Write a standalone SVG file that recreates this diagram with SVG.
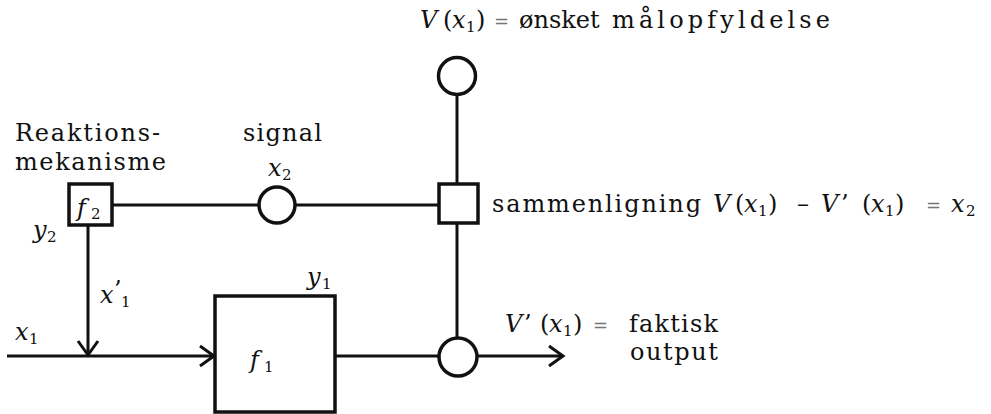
<svg xmlns="http://www.w3.org/2000/svg" width="991" height="414" viewBox="0 0 991 414">
<defs>
<style>
.t{font-family:'DejaVu Serif','Liberation Serif',serif;font-size:24px;fill:#111}
.i{font-style:italic}
.s{font-size:15px}
.eq{fill:#777;font-size:18px}
.ln{stroke:#111;stroke-width:3;fill:none}
.nd{stroke:#111;stroke-width:3.5;fill:#fff}
</style>
<marker id="ah" markerUnits="userSpaceOnUse" markerWidth="20" markerHeight="24" refX="16" refY="12" orient="auto">
<path d="M2,2 L16,12 L2,22" fill="none" stroke="#111" stroke-width="3"/>
</marker>
</defs>
<rect width="991" height="414" fill="#fff"/>
<g id="connectors">
<line class="ln" x1="112" y1="205" x2="259" y2="205"/>
<line class="ln" x1="295" y1="205" x2="439" y2="205"/>
<line class="ln" x1="457" y1="95" x2="457" y2="184"/>
<line class="ln" x1="457" y1="223" x2="457" y2="338"/>
<line class="ln" x1="88" y1="225" x2="88" y2="355" marker-end="url(#ah)"/>
<line class="ln" x1="7" y1="356" x2="214" y2="356" marker-end="url(#ah)"/>
<line class="ln" x1="335" y1="356" x2="439" y2="356"/>
<line class="ln" x1="477" y1="356" x2="563" y2="356" marker-end="url(#ah)"/>
</g>
<g id="f2">
<rect class="nd" x="69" y="184" width="43" height="41"/>
<text class="t i" x="77" y="216">f</text><text class="t s" x="91" y="219">2</text>
</g>
<g id="reaktion-label">
<text class="t" x="15" y="141" textLength="145" lengthAdjust="spacing">Reaktions-</text>
<text class="t" x="15" y="170" textLength="151" lengthAdjust="spacing">mekanisme</text>
<text class="t i" x="33" y="238">y</text><text class="t s" x="47" y="242">2</text>
</g>
<g id="signal">
<circle class="nd" cx="277" cy="205" r="18"/>
<text class="t" x="243" y="141" textLength="79" lengthAdjust="spacing">signal</text>
<text class="t i" x="268" y="176">x</text><text class="t s" x="282" y="180">2</text>
</g>
<g id="target">
<circle class="nd" cx="457" cy="76" r="18.5"/>
<text class="t" y="28"><tspan x="420" class="i">V</tspan><tspan x="443">(</tspan><tspan x="452" class="i">x</tspan><tspan x="466" dy="4" class="s">1</tspan><tspan x="476" dy="-4">)</tspan><tspan x="494" class="eq">=</tspan><tspan x="519">ønsket</tspan><tspan x="612" textLength="218" lengthAdjust="spacing">målopfyldelse</tspan></text>
</g>
<g id="compare">
<rect class="nd" x="439" y="184" width="39" height="39"/>
<text class="t" y="212"><tspan x="492" textLength="209" lengthAdjust="spacing">sammenligning</tspan><tspan x="713" class="i">V</tspan><tspan x="735">(</tspan><tspan x="744" class="i">x</tspan><tspan x="758" dy="4" class="s">1</tspan><tspan x="768" dy="-4">)</tspan><tspan x="797">–</tspan><tspan x="821" class="i">V</tspan><tspan x="841">’</tspan><tspan x="862">(</tspan><tspan x="871" class="i">x</tspan><tspan x="885" dy="4" class="s">1</tspan><tspan x="895" dy="-4">)</tspan><tspan x="926" class="eq">=</tspan><tspan x="951" class="i">x</tspan><tspan x="966" dy="4" class="s">2</tspan></text>
</g>
<g id="output">
<circle class="nd" cx="458" cy="357" r="19"/>
<text class="t" y="332"><tspan x="505" class="i">V</tspan><tspan x="524">’</tspan><tspan x="540">(</tspan><tspan x="549" class="i">x</tspan><tspan x="563" dy="4" class="s">1</tspan><tspan x="573" dy="-4">)</tspan><tspan x="593" class="eq">=</tspan><tspan x="629" textLength="89" lengthAdjust="spacing">faktisk</tspan></text>
<text class="t" x="630" y="360" textLength="88" lengthAdjust="spacing">output</text>
</g>
<g id="f1">
<rect class="nd" x="215" y="296" width="120" height="116"/>
<text class="t i" x="250" y="368">f</text><text class="t s" x="264" y="372">1</text>
<text class="t i" x="307" y="285">y</text><text class="t s" x="322" y="289">1</text>
</g>
<g id="edge-labels">
<text class="t i" x="15" y="340">x</text><text class="t s" x="29" y="344">1</text>
<text class="t i" x="100" y="303">x</text><text class="t" x="114" y="298">’</text><text class="t s" x="121" y="307">1</text>
</g>
</svg>
